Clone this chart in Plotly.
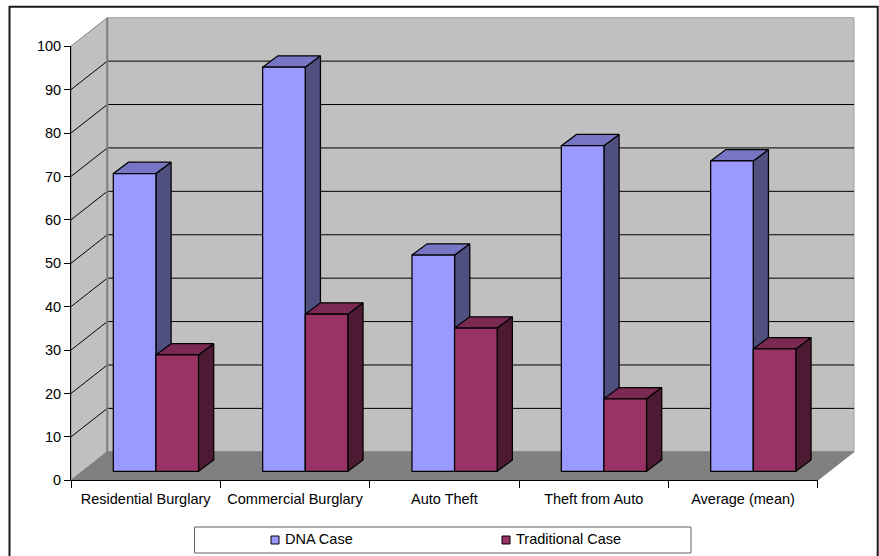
import plotly.graph_objects as go

# Chart data
categories = ["Residential Burglary", "Commercial Burglary", "Auto Theft", "Theft from Auto", "Average (mean)"]
dna_case = [68.6, 93.1, 49.8, 75.0, 71.5]
traditional_case = [26.8, 36.2, 33.0, 16.7, 28.2]
series_names = ["DNA Case", "Traditional Case"]
y_ticks = list(range(0, 101, 10))

# Page size and the pixel geometry of the pseudo-3D box
W, H = 879, 556
AX_LEFT, AX_RIGHT = 71.0, 817.7
AX_BOTTOM, AX_TOP = 480.3, 46.2
UX = (AX_RIGHT - AX_LEFT) / len(categories)   # px per category
UY = (AX_BOTTOM - AX_TOP) / 100.0             # px per value unit
BACK_DX, BACK_DY = 36.3 / UX, 28.5 / UY       # wall depth in data units
BAR_LEFT0, BAR_FLOOR = 155.9, 471.3           # first group centre and bar baseline
BAR_W = 42.6 / UX
BAR_DX, BAR_DY = 15.2 / UX, 11.3 / UY         # bar depth in data units
BAR_EDGE = 1.25

COL = {
    "wall": "#C0C0C0", "floor": "#808080", "edge": "#808080",
    "dna": "#9999FF", "dna_top": "#7676C4", "dna_side": "#4F4F80",
    "trad": "#993366", "trad_top": "#7A2952", "trad_side": "#4D1A33",
}
FONT = "Liberation Sans, Arial, sans-serif"
FONT_SIZE = 14.5

fig = go.Figure()


def poly(xs, ys, fill, line, width, axes):
    fig.add_trace(go.Scatter(
        x=xs, y=ys, mode="lines", fill="toself", fillcolor=fill,
        line=dict(color=line, width=width), xaxis=axes[0], yaxis=axes[1],
        hoverinfo="skip", showlegend=False))


# Box: side wall, back wall and floor, in axis-plane coordinates
x0, x1 = -0.5, len(categories) - 0.5
bx0, bx1 = x0 + BACK_DX, x1 + BACK_DX
WALLS = ("x", "y")
poly([x0, bx0, bx0, x0, x0], [0, BACK_DY, 100 + BACK_DY, 100, 0], COL["wall"], COL["edge"], 1, WALLS)
poly([bx0, bx1, bx1, bx0, bx0], [BACK_DY, BACK_DY, 100 + BACK_DY, 100 + BACK_DY, BACK_DY], COL["wall"], "#A0A0A0", 1, WALLS)
poly([x0, x1, bx1, bx0, x0], [0, 0, BACK_DY, BACK_DY, 0], COL["floor"], COL["edge"], 1, WALLS)

# Gridlines run along the side wall, then across the back wall
for v in y_ticks[1:-1]:
    fig.add_trace(go.Scatter(
        x=[x0, bx0, bx1], y=[v, v + BACK_DY, v + BACK_DY], mode="lines",
        line=dict(color="#000000", width=1), xaxis="x", yaxis="y",
        hoverinfo="skip", showlegend=False))
fig.add_trace(go.Scatter(
    x=[bx0, bx0], y=[BACK_DY, 100 + BACK_DY], mode="lines",
    line=dict(color=COL["edge"], width=2), xaxis="x", yaxis="y",
    hoverinfo="skip", showlegend=False))

# Top and side faces of each bar, drawn behind the front faces
FACES = ("x2", "y2")
for i in range(len(categories)):
    for values, left, top, side in (
        (dna_case, i - BAR_W, COL["dna_top"], COL["dna_side"]),
        (traditional_case, i, COL["trad_top"], COL["trad_side"]),
    ):
        v = values[i]
        r = left + BAR_W
        poly([r, r + BAR_DX, r + BAR_DX, r, r], [v, v + BAR_DY, BAR_DY, 0, v], side, "#000000", BAR_EDGE, FACES)
        poly([left, r, r + BAR_DX, left + BAR_DX, left], [v, v, v + BAR_DY, v + BAR_DY, v], top, "#000000", BAR_EDGE, FACES)

# Front faces
for name, values, color in ((series_names[0], dna_case, COL["dna"]), (series_names[1], traditional_case, COL["trad"])):
    fig.add_trace(go.Bar(
        x=categories, y=values, name=name, xaxis="x3", yaxis="y3",
        marker=dict(color=color, line=dict(color="#000000", width=BAR_EDGE)),
        showlegend=False))

# Carrier for the visible axes
fig.add_trace(go.Scatter(x=[0], y=[0], mode="lines", xaxis="x4", yaxis="y4", hoverinfo="skip", showlegend=False))

hidden = dict(visible=False, showgrid=False, zeroline=False, fixedrange=True)
wall_x = [x0 - AX_LEFT / UX, x0 + (W - AX_LEFT) / UX]
wall_y = [-(H - AX_BOTTOM) / UY, AX_BOTTOM / UY]
bar_x = [-BAR_LEFT0 / UX, (W - BAR_LEFT0) / UX]
bar_y = [-(H - BAR_FLOOR) / UY, BAR_FLOOR / UY]

# Outer frame and legend box
shapes = [
    dict(type="path", xref="paper", yref="paper", layer="above",
         path=f"M {9.5 / W} 0 L {9.5 / W} {1 - 6.7 / H} L {877.7 / W} {1 - 6.7 / H} L {877.7 / W} 0",
         line=dict(color="#1A1A1A", width=2)),
    dict(type="rect", xref="paper", yref="paper", layer="above",
         x0=194.5 / W, x1=691 / W, y0=1 - 553 / H, y1=1 - 527 / H,
         line=dict(color="#606060", width=1), fillcolor="#FFFFFF"),
    dict(type="rect", xref="paper", yref="paper", layer="above",
         x0=271 / W, x1=279 / W, y0=1 - 544 / H, y1=1 - 536 / H,
         line=dict(color="#000000", width=1), fillcolor=COL["dna"]),
    dict(type="rect", xref="paper", yref="paper", layer="above",
         x0=502 / W, x1=510 / W, y0=1 - 544 / H, y1=1 - 536 / H,
         line=dict(color="#000000", width=1), fillcolor=COL["trad"]),
]
annotations = [
    dict(text=series_names[0], xref="paper", yref="paper", x=283 / W, y=1 - 539 / H,
         xanchor="left", yanchor="middle", showarrow=False, font=dict(family=FONT, size=FONT_SIZE, color="#000000")),
    dict(text=series_names[1], xref="paper", yref="paper", x=513.5 / W, y=1 - 539 / H,
         xanchor="left", yanchor="middle", showarrow=False, font=dict(family=FONT, size=FONT_SIZE, color="#000000")),
]

fig.update_layout(
    width=W, height=H, autosize=False,
    margin=dict(l=0, r=0, t=0, b=0, pad=0, autoexpand=False),
    paper_bgcolor="#FFFFFF", plot_bgcolor="rgba(0,0,0,0)",
    barmode="group", bargap=1 - 2 * BAR_W, bargroupgap=0,
    showlegend=False, shapes=shapes, annotations=annotations,
    font=dict(family=FONT, size=FONT_SIZE, color="#000000"),
    xaxis=dict(hidden, domain=[0, 1], range=wall_x, anchor="y"),
    yaxis=dict(hidden, domain=[0, 1], range=wall_y, anchor="x"),
    xaxis2=dict(hidden, domain=[0, 1], range=bar_x, anchor="y2"),
    yaxis2=dict(hidden, domain=[0, 1], range=bar_y, anchor="x2"),
    xaxis3=dict(hidden, domain=[0, 1], range=bar_x, anchor="y3", type="category", categoryorder="array", categoryarray=categories),
    yaxis3=dict(hidden, domain=[0, 1], range=bar_y, anchor="x3"),
    xaxis4=dict(
        domain=[AX_LEFT / W, AX_RIGHT / W], range=[x0, x1], anchor="y4", fixedrange=True,
        showgrid=False, zeroline=False, showline=True, linecolor="#000000", linewidth=1,
        tickmode="array", tickvals=list(range(len(categories))), ticktext=categories,
        ticks="", ticklabelstandoff=5, tickfont=dict(family=FONT, size=FONT_SIZE, color="#000000"),
        minor=dict(tickmode="array", tickvals=[k - 0.5 for k in range(len(categories) + 1)],
                   ticks="outside", ticklen=7, tickcolor="#000000", tickwidth=1, showgrid=False),
    ),
    yaxis4=dict(
        domain=[1 - AX_BOTTOM / H, 1 - AX_TOP / H], range=[0, 100], anchor="x4", fixedrange=True,
        showgrid=False, zeroline=False, showline=True, linecolor="#000000", linewidth=1,
        tickmode="array", tickvals=y_ticks, ticks="outside", ticklen=6, tickcolor="#000000",
        tickfont=dict(family=FONT, size=FONT_SIZE, color="#000000"),
    ),
)

fig.write_html("out.html", config=dict(displayModeBar=False))
